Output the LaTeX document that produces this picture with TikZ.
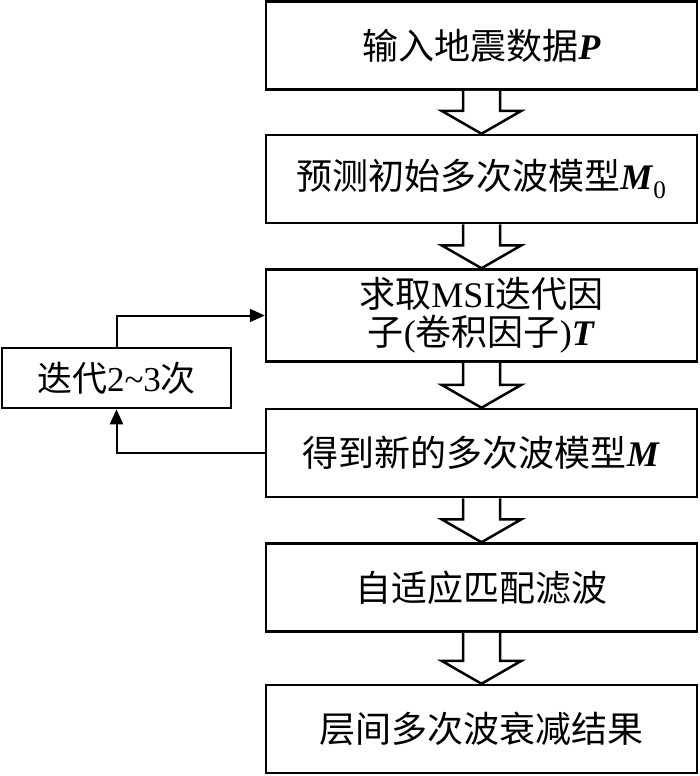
\documentclass[tikz,border=0pt]{standalone}
\usepackage{fontspec}
\setmainfont{Liberation Serif}
\newfontfamily\cjk{Noto Sans CJK SC}
\usetikzlibrary{positioning,calc,arrows.meta}
\tikzset{
    stepbox/.style={rectangle,draw=black,line width=2.5pt,minimum width=431pt,minimum height=88pt,align=center,font=\fontsize{36}{40}\selectfont},
    loopbox/.style={rectangle,draw=black,line width=2.5pt,minimum width=229pt,minimum height=60pt,align=center,font=\fontsize{35}{38}\selectfont},
    bigarrow/.style={draw=black,line width=2.5pt,line join=miter,fill=white},
    feedback/.style={line width=2pt,-{Triangle[length=15pt,width=13pt]}},
}
\newcommand{\zh}[1]{{\cjk #1}}
\newcommand{\flowarrow}[2]{%
    \draw[bigarrow] ($(#1.south)+(-18.5,0)$) -- ($(#2.north)+(-18.5,23)$) -- ($(#2.north)+(-40,23)$) -- (#2.north) -- ($(#2.north)+(40,23)$) -- ($(#2.north)+(18.5,23)$) -- ($(#1.south)+(18.5,0)$);}

\begin{document}
\begin{tikzpicture}[x=1pt,y=1pt]
\useasboundingbox (0,0) rectangle (700,-776);
% main flow
\node[stepbox] (input) at (481.5,-45.5) {\zh{输入地震数据}\textbf{\textit{P}}};
\node[stepbox] (predict) [below=43pt of input] {\zh{预测初始多次波模型}\textbf{\textit{M}}\textsubscript{0}};
\node[stepbox,minimum height=92pt,inner ysep=3pt,font=\fontsize{36}{38}\selectfont] (factor) [below=44pt of predict] {\zh{求取}MSI\zh{迭代因}\\\zh{子}(\zh{卷积因子})\textbf{\textit{T}}};
\node[stepbox] (model) [below=45pt of factor] {\zh{得到新的多次波模型}\textbf{\textit{M}}};
\node[stepbox] (match) [below=44pt of model] {\zh{自适应匹配滤波}};
\node[stepbox] (result) [below=51pt of match] {\zh{层间多次波衰减结果}};
% iteration loop
\node[loopbox] (iter) at (116.5,-378) {\zh{迭代}2\textasciitilde3\zh{次}};
\draw[feedback] (iter.north) |- (factor.west);
\draw[feedback] (model.west) -| (iter.south);
% hollow arrows
\flowarrow{input}{predict}
\flowarrow{predict}{factor}
\flowarrow{factor}{model}
\flowarrow{model}{match}
\flowarrow{match}{result}
\end{tikzpicture}
\end{document}
